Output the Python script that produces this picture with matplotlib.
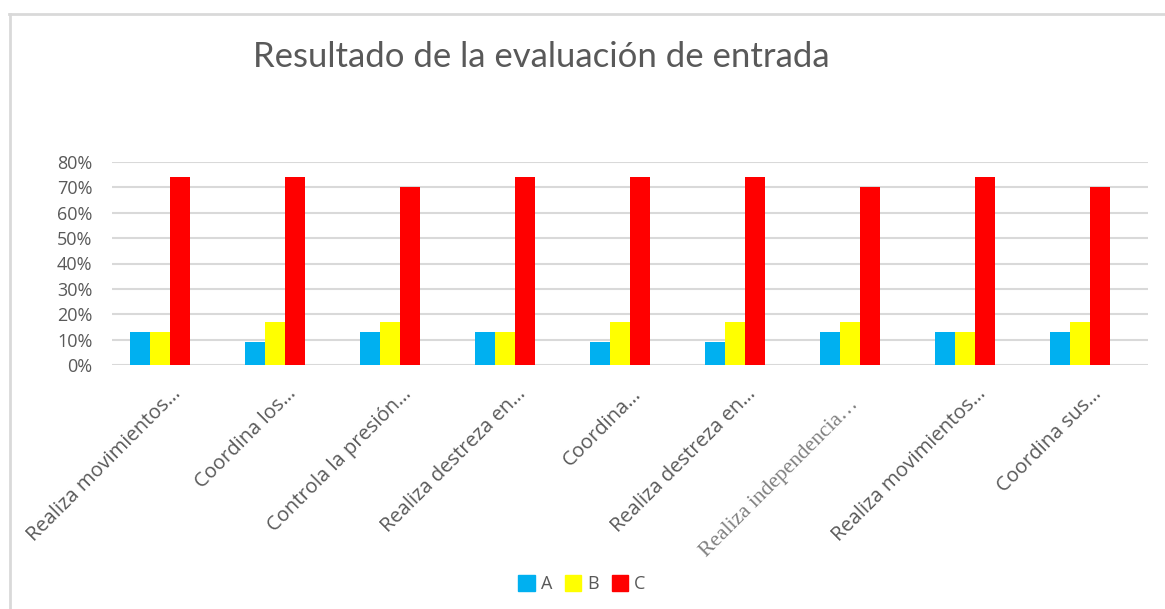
import numpy as np
import matplotlib.pyplot as plt
from matplotlib.lines import Line2D
from matplotlib.patches import Patch

categories = ["Realiza movimientos…", "Coordina los…", "Controla la presión…",
              "Realiza destreza en…", "Coordina…", "Realiza destreza en…",
              "Realiza independencia…", "Realiza movimientos…", "Coordina sus…"]
serie_a = [0.13, 0.09, 0.13, 0.13, 0.09, 0.09, 0.13, 0.13, 0.13]
serie_b = [0.13, 0.17, 0.17, 0.13, 0.17, 0.17, 0.17, 0.13, 0.17]
serie_c = [0.74, 0.74, 0.70, 0.74, 0.74, 0.74, 0.70, 0.74, 0.70]
series_names = ["A", "B", "C"]
yticks = [0, 0.1, 0.2, 0.3, 0.4, 0.5, 0.6, 0.7, 0.8]

colors = ["#00b0f0", "#ffff00", "#ff0000"]
gray = "#595959"

W, H = 1165, 609
fig = plt.figure(figsize=(W / 100, H / 100), dpi=100)

# chart area border (light gray, left and top edges visible)
fig.add_artist(Line2D([9.5 / W, 9.5 / W], [0, 1 - 14 / H], color="#d9d9d9", lw=2))
fig.add_artist(Line2D([9 / W, 1], [1 - 14 / H, 1 - 14 / H], color="#d9d9d9", lw=2))

left, right, top, bottom = 112 / W, 1148 / W, 162 / H, 365 / H
ax = fig.add_axes([left, 1 - bottom, right - left, bottom - top])

x = np.arange(len(categories))
bw = 0.174
for i, (vals, c) in enumerate(zip([serie_a, serie_b, serie_c], colors)):
    ax.bar(x + (i - 1) * bw, vals, width=bw, color=c, zorder=3)

ax.set_ylim(0, 0.8)
ax.set_xlim(-0.417, 8.591)
ax.set_yticks(yticks)
ax.set_yticklabels([f"{int(round(v * 100))}%" for v in yticks],
                   fontsize=13, color=gray, family="Open Sans")
ax.yaxis.grid(True, color="#d9d9d9", lw=1.5, zorder=0)
ax.tick_params(length=0, pad=14)
for s in ax.spines.values():
    s.set_visible(False)

ax.set_xticks(x)
ax.set_xticklabels([])
for i, lab in enumerate(categories):
    if "independencia" in lab:
        # this one was typed in a serif font in the original
        ax.text(x[i] + 0.11, -0.12, lab, rotation=45, ha="right", va="top",
                fontsize=15.5, family="Liberation Serif", color="#7f7f7f", clip_on=False)
    else:
        ax.text(x[i] + 0.22, -0.075, lab, rotation=45, ha="right", va="top",
                fontsize=14.5, family="Open Sans", color=gray, clip_on=False)

fig.text(541 / W, 1 - 57 / H, "Resultado de la evaluación de entrada",
         ha="center", va="center", fontsize=25, color=gray, family="Lato")

handles = [Patch(color=c) for c in colors]
leg = fig.legend(handles, series_names, loc="center", bbox_to_anchor=(582 / W, 1 - 584 / H),
                 ncol=3, frameon=False, handlelength=0.9, handleheight=1.0,
                 handletextpad=0.35, columnspacing=0.7,
                 prop={"family": "Open Sans", "size": 13})
for t in leg.get_texts():
    t.set_color(gray)

fig.savefig("out.png", dpi=100)
